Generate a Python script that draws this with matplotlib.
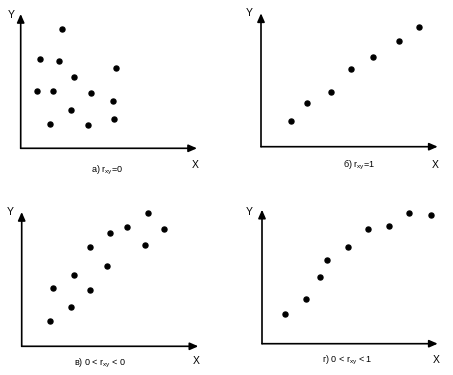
import matplotlib
matplotlib.use("Agg")
import matplotlib.pyplot as plt

plt.rcParams['font.family'] = ['Liberation Sans', 'DejaVu Sans']
plt.rcParams['mathtext.fontset'] = 'custom'
plt.rcParams['mathtext.rm'] = 'Liberation Sans'
plt.rcParams['mathtext.it'] = 'Liberation Sans'

W, H = 453, 375

# Panel data (values relative to each panel's origin)
a_x = [41.6, 19.3, 38.3, 95.0, 53.3, 16.0, 32.0, 70.3, 92.0, 50.0, 29.6, 67.6, 93.3]
a_y = [119.3, 89.0, 87.0, 80.0, 71.0, 57.3, 57.6, 55.0, 47.6, 38.3, 24.6, 23.0, 29.0]

b_x = [30.0, 46.0, 69.7, 89.7, 112.0, 138.3, 158.3]
b_y = [25.4, 44.0, 55.0, 77.4, 89.4, 105.4, 119.7]

c_x = [28.6, 31.3, 49.0, 52.0, 68.6, 68.0, 85.3, 88.0, 105.0, 123.3, 126.0, 142.6]
c_y = [25.3, 58.3, 39.0, 71.6, 56.0, 99.0, 80.6, 113.0, 119.0, 101.0, 133.6, 117.0]

d_x = [23.3, 44.3, 58.3, 65.3, 86.0, 106.0, 126.7, 147.3, 169.0]
d_y = [30.0, 45.0, 66.7, 83.7, 97.0, 114.4, 117.7, 131.0, 129.0]

captions = ['а) r$_{xy}$=0', 'б) r$_{xy}$=1', 'в) 0 < r$_{xy}$ < 0', 'г) 0 < r$_{xy}$ < 1']

# layout: origin (px), x-axis end (px), y-axis top (px), Y label pos, X label pos, caption pos (abs px)
panels = [
    dict(x=a_x, y=a_y, ox=20.7, oy=148.3, xe=197.0, yt=14.0,
         Ylab=(11.7, 15.0), Xlab=(195.0, 165.0), cap=(106.7, 170.5), text=captions[0]),
    dict(x=b_x, y=b_y, ox=261.0, oy=146.7, xe=437.7, yt=13.3,
         Ylab=(249.3, 12.7), Xlab=(435.3, 165.0), cap=(359.3, 165.0), text=captions[1]),
    dict(x=c_x, y=c_y, ox=21.7, oy=346.3, xe=198.3, yt=212.0,
         Ylab=(10.0, 212.0), Xlab=(196.7, 361.0), cap=(100.0, 363.7), text=captions[2]),
    dict(x=d_x, y=d_y, ox=262.0, oy=343.7, xe=437.7, yt=209.7,
         Ylab=(249.3, 212.0), Xlab=(436.7, 360.3), cap=(347.7, 360.3), text=captions[3]),
]

fig = plt.figure(figsize=(W / 100, H / 100), dpi=100)
fig.patch.set_facecolor('white')

for p in panels:
    w = p['xe'] - p['ox']
    h = p['oy'] - p['yt']
    ax = fig.add_axes([p['ox'] / W, (H - p['oy']) / H, w / W, h / H])
    ax.set_xlim(0, w)
    ax.set_ylim(0, h)
    ax.axis('off')
    ax.scatter(p['x'], p['y'], s=13, color='black', zorder=3, clip_on=False)
    ax.annotate('', xy=(1, 0), xytext=(0, 0), xycoords='axes fraction',
                arrowprops=dict(arrowstyle='-|>,head_length=0.5,head_width=0.22',
                                color='black', lw=1.2, shrinkA=0, shrinkB=0))
    ax.annotate('', xy=(0, 1), xytext=(0, 0), xycoords='axes fraction',
                arrowprops=dict(arrowstyle='-|>,head_length=0.5,head_width=0.22',
                                color='black', lw=1.2, shrinkA=0, shrinkB=0))
    fig.text(p['Ylab'][0] / W, 1 - p['Ylab'][1] / H, 'Y', ha='center', va='center',
             fontsize=7.5)
    fig.text(p['Xlab'][0] / W, 1 - p['Xlab'][1] / H, 'X', ha='center', va='center',
             fontsize=7.5)
    fig.text(p['cap'][0] / W, 1 - p['cap'][1] / H, p['text'], ha='center', va='center',
             fontsize=6.5)

fig.savefig('out.png', dpi=100, facecolor='white')
